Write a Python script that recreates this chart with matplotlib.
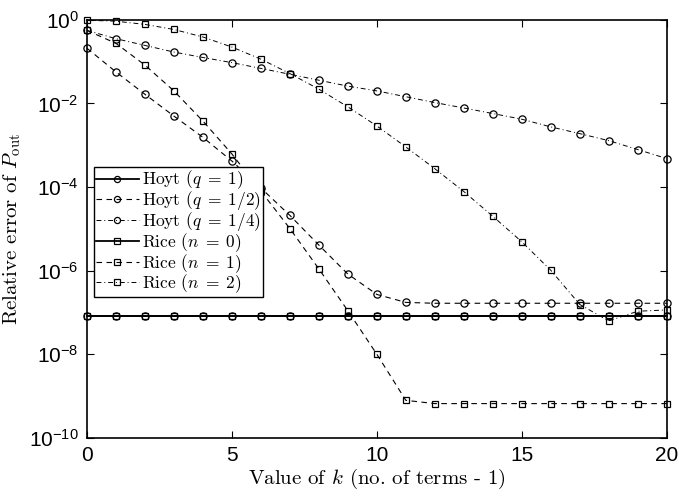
import matplotlib
matplotlib.use("Agg")
import matplotlib.pyplot as plt

# Values
k = list(range(21))

hoyt_q1 = [8.3e-8, 8.3e-8, 8.3e-8, 8.3e-8, 8.3e-8, 8.3e-8, 8.3e-8, 8.3e-8, 8.3e-8, 8.3e-8, 8.3e-8,
           8.3e-8, 8.3e-8, 8.3e-8, 8.3e-8, 8.3e-8, 8.3e-8, 8.3e-8, 8.3e-8, 8.3e-8, 8.3e-8]
hoyt_q2 = [0.21, 0.057, 0.0166, 5.0e-3, 1.55e-3, 4.2e-4, 9.5e-5, 2.1e-5, 4.1e-6, 8.3e-7, 2.7e-7,
           1.74e-7, 1.66e-7, 1.66e-7, 1.66e-7, 1.66e-7, 1.66e-7, 1.66e-7, 1.66e-7, 1.66e-7, 1.66e-7]
hoyt_q4 = [0.56, 0.355, 0.245, 0.17, 0.126, 0.095, 0.069, 0.050, 0.036, 0.026, 0.020,
           0.0145, 0.0105, 7.8e-3, 5.75e-3, 4.2e-3, 2.75e-3, 1.9e-3, 1.29e-3, 7.9e-4, 4.8e-4]
rice_n0 = [8.3e-8, 8.3e-8, 8.3e-8, 8.3e-8, 8.3e-8, 8.3e-8, 8.3e-8, 8.3e-8, 8.3e-8, 8.3e-8, 8.3e-8,
           8.3e-8, 8.3e-8, 8.3e-8, 8.3e-8, 8.3e-8, 8.3e-8, 8.3e-8, 8.3e-8, 8.3e-8, 8.3e-8]
rice_n1 = [0.56, 0.275, 0.083, 0.020, 3.8e-3, 6.2e-4, 8.0e-5, 1.02e-5, 1.1e-6, 1.1e-7, 1.0e-8,
           7.9e-10, 6.6e-10, 6.6e-10, 6.6e-10, 6.6e-10, 6.6e-10, 6.6e-10, 6.6e-10, 6.6e-10, 6.6e-10]
rice_n2 = [0.98, 0.93, 0.78, 0.59, 0.39, 0.224, 0.115, 0.052, 0.022, 8.3e-3, 2.9e-3,
           9.1e-4, 2.75e-4, 7.8e-5, 2.0e-5, 4.9e-6, 1.02e-6, 1.55e-7, 6.3e-8, 1.07e-7, 1.15e-7]

labels = [r"Hoyt ($q\;=\;1$)", r"Hoyt ($q\;=\;1/2$)", r"Hoyt ($q\;=\;1/4$)",
          r"Rice ($n\;=\;0$)", r"Rice ($n\;=\;1$)", r"Rice ($n\;=\;2$)"]
x_ticks = [0, 5, 10, 15, 20]
y_ticks = [1e-10, 1e-8, 1e-6, 1e-4, 1e-2, 1e0]
y_tick_labels = [r"$10^{-10}$", r"$10^{-8}$", r"$10^{-6}$", r"$10^{-4}$", r"$10^{-2}$", r"$10^{0}$"]

plt.rcParams["font.family"] = "cmr10"
plt.rcParams["mathtext.fontset"] = "cm"
plt.rcParams["axes.formatter.use_mathtext"] = True
plt.rcParams["mathtext.rm"] = "Liberation Sans"
plt.rcParams["mathtext.it"] = "Liberation Sans:italic"
plt.rcParams["mathtext.bf"] = "Liberation Sans:bold"

fig = plt.figure(figsize=(6.79, 4.97), dpi=100)
ax = fig.add_axes([0.128, 0.119, 0.854, 0.841])

dash = (0, (5, 4))
dashdot = (0, (5, 3, 1, 3))
styles = [
    ("-", "o", 1.3),
    (dash, "o", 0.8),
    (dashdot, "o", 0.7),
    ("-", "s", 1.3),
    (dash, "s", 0.8),
    (dashdot, "s", 0.7),
]
series = [hoyt_q1, hoyt_q2, hoyt_q4, rice_n0, rice_n1, rice_n2]

for vals, lab, (ls, mk, lw) in zip(series, labels, styles):
    ms = 5.2 if mk == "o" else 4.4
    ax.plot(k, vals, linestyle=ls, marker=mk, color="black", lw=lw, ms=ms,
            mfc="none", mec="black", mew=0.9, label=lab, clip_on=False)

ax.set_yscale("log")
ax.set_xlim(0, 20)
ax.set_ylim(1e-10, 1)
ax.minorticks_off()

ax.set_xticks(x_ticks)
ax.set_xticklabels([str(t) for t in x_ticks], fontfamily="Liberation Sans", fontsize=15)
ax.set_yticks(y_ticks)
ax.set_yticklabels(y_tick_labels, fontsize=15)
for t in ax.get_yticklabels():
    t.set_math_fontfamily("custom")

ax.tick_params(direction="in", length=5, width=0.8, top=True, right=True, pad=6)
for sp in ax.spines.values():
    sp.set_linewidth(1.2)

ax.set_xlabel(r"Value of $k$ (no. of terms - 1)", fontsize=15, labelpad=1)
ax.set_ylabel(r"Relative error of $P_{\mathrm{out}}$", fontsize=15, labelpad=4)
ax.xaxis.label.set_math_fontfamily("cm")
ax.yaxis.label.set_math_fontfamily("cm")

leg = ax.legend(loc="upper left", bbox_to_anchor=(0.012, 0.648), borderaxespad=0,
                fontsize=12.5, numpoints=1, handlelength=2.5, handletextpad=0.2,
                labelspacing=-0.12, borderpad=0.1, fancybox=False, framealpha=1,
                edgecolor="black", markerscale=0.85)
leg.set_zorder(5)
leg.get_frame().set_linewidth(1.0)
for t in leg.get_texts():
    t.set_math_fontfamily("cm")

fig.savefig("out.png", dpi=100)
